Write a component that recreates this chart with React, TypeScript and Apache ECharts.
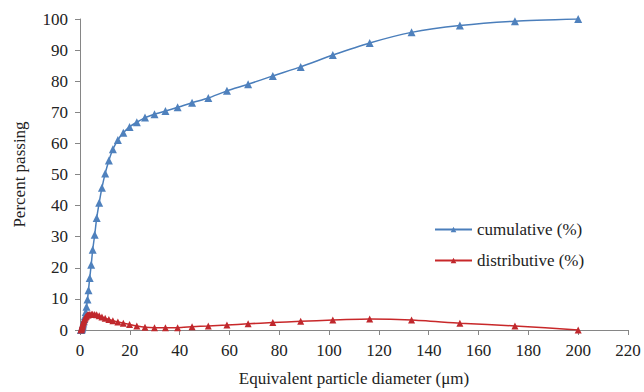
import React, { useEffect, useRef } from "react";
import * as echarts from "echarts";

const diameters = [0.4, 0.5, 0.6, 0.7, 0.8, 0.9, 1.0, 1.1, 1.3, 1.5, 1.7, 2.0, 2.3, 2.6, 3.0, 3.4, 3.9, 4.5, 5.1, 5.9, 6.7, 7.7, 8.8, 10.1, 11.6, 13.2, 15.2, 17.4, 19.9, 22.8, 26.1, 29.9, 34.3, 39.2, 45.0, 51.5, 59.0, 67.5, 77.4, 88.6, 101.5, 116.3, 133.1, 152.5, 174.6, 200];
const cumulative = [0, 0.1, 0.2, 0.4, 0.6, 0.9, 1.2, 1.5, 2.1, 2.8, 3.5, 4.5, 5.8, 7.5, 9.8, 12.8, 16.7, 21, 25.8, 30.6, 36, 40.9, 45.7, 50.3, 54.5, 58.1, 61.1, 63.4, 65.3, 66.8, 68.3, 69.4, 70.4, 71.6, 73.1, 74.6, 76.9, 79, 81.7, 84.6, 88.4, 92.3, 95.7, 97.9, 99.3, 100];
const distributive = [0, 0.2, 0.4, 0.7, 1.0, 1.3, 1.6, 1.9, 2.4, 2.9, 3.3, 3.8, 4.2, 4.5, 4.8, 4.9, 5.0, 5.1, 5.1, 5.0, 4.9, 4.6, 4.2, 3.8, 3.4, 3.0, 2.6, 2.2, 1.8, 1.3, 0.9, 0.75, 0.75, 0.75, 1.05, 1.3, 1.6, 2.0, 2.4, 2.8, 3.2, 3.5, 3.2, 2.2, 1.3, 0];

const FONT = "Liberation Serif, Times New Roman, DejaVu Serif, serif";

export default function App() {
  const ref = useRef<HTMLDivElement>(null);
  useEffect(() => {
    if (!ref.current) return;
    const chart = echarts.init(ref.current, undefined, { renderer: "svg" });
    const pair = (ys: number[]) => diameters.map((x, i) => [x, ys[i]]);
    chart.setOption({
      animation: false,
      backgroundColor: "#ffffff",
      textStyle: { fontFamily: FONT },
      grid: { left: 80, right: 16, top: 19, bottom: 62 },
      legend: {
        orient: "vertical",
        left: 429,
        top: 216,
        itemWidth: 37,
        itemHeight: 7,
        itemGap: 14,
        textStyle: { fontFamily: FONT, fontSize: 17, color: "#222" },
        data: ["cumulative (%)", "distributive (%)"],
      },
      xAxis: {
        type: "value",
        min: 0,
        max: 220,
        interval: 20,
        name: "Equivalent particle diameter (μm)",
        nameLocation: "middle",
        nameGap: 40,
        nameTextStyle: { fontFamily: FONT, fontSize: 17, color: "#222" },
        axisLine: { lineStyle: { color: "#868686" } },
        axisTick: { lineStyle: { color: "#868686" }, length: 5 },
        axisLabel: { fontFamily: FONT, fontSize: 17, color: "#222", margin: 12 },
        splitLine: { show: false },
      },
      yAxis: {
        type: "value",
        min: 0,
        max: 100,
        interval: 10,
        name: "Percent passing",
        nameLocation: "middle",
        nameGap: 52,
        nameTextStyle: { fontFamily: FONT, fontSize: 17, color: "#222" },
        axisLine: { show: true, lineStyle: { color: "#868686" } },
        axisTick: { show: true, lineStyle: { color: "#868686" }, length: 5 },
        axisLabel: { fontFamily: FONT, fontSize: 17, color: "#222", margin: 12 },
        splitLine: { show: false },
      },
      series: [
        {
          name: "cumulative (%)",
          type: "line",
          data: pair(cumulative),
          smooth: 0.2,
          symbol: "triangle",
          symbolSize: 8,
          lineStyle: { color: "#4A7EBB", width: 1.5 },
          itemStyle: { color: "#4F81BD" },
        },
        {
          name: "distributive (%)",
          type: "line",
          data: pair(distributive),
          smooth: 0.2,
          symbol: "triangle",
          symbolSize: 7,
          lineStyle: { color: "#C8282A", width: 1.5 },
          itemStyle: { color: "#C0282D" },
        },
      ],
    });
    return () => chart.dispose();
  }, []);
  return (
    <div
      ref={ref}
      style={{ position: "fixed", left: 0, top: 0, width: 644, height: 392 }}
    />
  );
}
